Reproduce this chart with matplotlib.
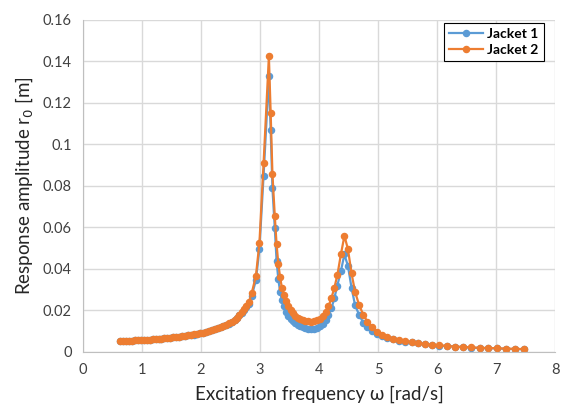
import matplotlib.pyplot as plt
from matplotlib.ticker import FixedLocator

# excitation frequency [rad/s]
omega = [0.63, 0.68, 0.73, 0.78, 0.83, 0.88, 0.93, 0.98, 1.03, 1.08, 1.13, 1.18,
         1.23, 1.28, 1.33, 1.38, 1.43, 1.48, 1.53, 1.58, 1.63, 1.68, 1.73, 1.78,
         1.83, 1.88, 1.93, 1.98, 2.03, 2.08, 2.13, 2.18, 2.23, 2.28, 2.33, 2.38,
         2.43, 2.48, 2.53, 2.57, 2.61, 2.65, 2.69, 2.73, 2.77, 2.81, 2.86, 2.93,
         2.99, 3.06, 3.15, 3.18, 3.21, 3.25, 3.28, 3.31, 3.34, 3.37, 3.40, 3.44,
         3.48, 3.52, 3.56, 3.60, 3.64, 3.68, 3.72, 3.77, 3.81, 3.86, 3.91, 3.96,
         4.01, 4.06, 4.11, 4.16, 4.21, 4.26, 4.31, 4.37, 4.43, 4.49, 4.55, 4.61,
         4.68, 4.75, 4.82, 4.90, 4.98, 5.07, 5.16, 5.26, 5.36, 5.46, 5.57, 5.68,
         5.80, 5.92, 6.04, 6.17, 6.30, 6.44, 6.58, 6.72, 6.87, 7.02, 7.17, 7.32,
         7.47]

# response amplitude r0 [m]
jacket1 = [0.0053, 0.0054, 0.0054, 0.0055, 0.0055, 0.0056, 0.0057, 0.0057, 0.0058, 0.0059, 0.0060, 0.0061,
           0.0062, 0.0063, 0.0064, 0.0066, 0.0067, 0.0068, 0.0070, 0.0072, 0.0074, 0.0076, 0.0078, 0.0080,
           0.0082, 0.0084, 0.0087, 0.0089, 0.0092, 0.0096, 0.0100, 0.0104, 0.0109, 0.0114, 0.0119, 0.0124,
           0.0130, 0.0136, 0.0144, 0.0153, 0.0163, 0.0176, 0.0189, 0.0202, 0.0216, 0.0232, 0.0272, 0.0345,
           0.0498, 0.0850, 0.1330, 0.1070, 0.0790, 0.0596, 0.0440, 0.0350, 0.0290, 0.0250, 0.0220, 0.0195,
           0.0175, 0.0160, 0.0149, 0.0139, 0.0130, 0.0124, 0.0118, 0.0114, 0.0111, 0.0110, 0.0112, 0.0117,
           0.0125, 0.0137, 0.0155, 0.0180, 0.0210, 0.0260, 0.0320, 0.0390, 0.0470, 0.0414, 0.0310, 0.0226,
           0.0178, 0.0141, 0.0120, 0.0103, 0.0088, 0.0077, 0.0069, 0.0061, 0.0055, 0.0050, 0.0046, 0.0041,
           0.0037, 0.0033, 0.0031, 0.0028, 0.0026, 0.0023, 0.0021, 0.0019, 0.0018, 0.0017, 0.0015, 0.0014,
           0.0013]

jacket2 = [0.0053, 0.0054, 0.0054, 0.0055, 0.0055, 0.0056, 0.0057, 0.0057, 0.0058, 0.0059, 0.0060, 0.0061,
           0.0062, 0.0063, 0.0064, 0.0066, 0.0067, 0.0068, 0.0070, 0.0072, 0.0074, 0.0076, 0.0078, 0.0080,
           0.0082, 0.0085, 0.0087, 0.0090, 0.0093, 0.0097, 0.0101, 0.0105, 0.0110, 0.0115, 0.0120, 0.0126,
           0.0132, 0.0138, 0.0146, 0.0155, 0.0166, 0.0180, 0.0194, 0.0208, 0.0222, 0.0240, 0.0285, 0.0366,
           0.0527, 0.0909, 0.1425, 0.1153, 0.0858, 0.0655, 0.0520, 0.0425, 0.0360, 0.0310, 0.0275, 0.0245,
           0.0220, 0.0200, 0.0186, 0.0175, 0.0166, 0.0159, 0.0154, 0.0150, 0.0147, 0.0146, 0.0147, 0.0152,
           0.0160, 0.0175, 0.0195, 0.0220, 0.0260, 0.0310, 0.0370, 0.0470, 0.0560, 0.0495, 0.0380, 0.0290,
           0.0225, 0.0180, 0.0145, 0.0120, 0.0097, 0.0082, 0.0072, 0.0064, 0.0057, 0.0052, 0.0047, 0.0043,
           0.0038, 0.0034, 0.0032, 0.0029, 0.0026, 0.0024, 0.0022, 0.0020, 0.0019, 0.0018, 0.0016, 0.0015,
           0.0014]

xticks = [0, 1, 2, 3, 4, 5, 6, 7, 8]
yticks = [0, 0.02, 0.04, 0.06, 0.08, 0.1, 0.12, 0.14, 0.16]
ytick_labels = ['0', '0.02', '0.04', '0.06', '0.08', '0.1', '0.12', '0.14', '0.16']

plt.rcParams['font.family'] = ['Lato', 'DejaVu Sans']

fig = plt.figure(figsize=(5.62, 4.19), dpi=100)
ax = fig.add_axes([0.1477, 0.16, 0.84, 0.7923])

ax.plot(omega, jacket1, color='#5B9BD5', marker='o', markersize=4.4, linewidth=1.6, label='Jacket 1')
ax.plot(omega, jacket2, color='#ED7D31', marker='o', markersize=4.4, linewidth=1.6, label='Jacket 2')

ax.set_xlim(0, 8)
ax.set_ylim(0, 0.16)
ax.xaxis.set_major_locator(FixedLocator(xticks))
ax.set_yticks(yticks)
ax.set_yticklabels(ytick_labels)
ax.grid(True, color='#D9D9D9', linewidth=1)
ax.set_axisbelow(True)
ax.tick_params(length=0, labelsize=10.5, colors='#404040', pad=8)

for s in ['top', 'right']:
    ax.spines[s].set_visible(False)
for s in ['left', 'bottom']:
    ax.spines[s].set_color('#BFBFBF')

ax.set_xlabel('Excitation frequency ω [rad/s]', fontsize=13.5, color='#262626', labelpad=6)
ax.set_ylabel('Response amplitude r$_0$ [m]', fontsize=13.5, color='#262626', labelpad=6)

leg = ax.legend(loc='upper right', bbox_to_anchor=(0.982, 1.0), frameon=True, fancybox=False,
                edgecolor='black', framealpha=1, prop={'weight': 'bold', 'size': 10},
                handlelength=2.4, borderpad=0.4, labelspacing=0.25, handletextpad=0.3,
                borderaxespad=0.2)
leg.get_frame().set_linewidth(0.8)

fig.savefig('out.png', dpi=100)
